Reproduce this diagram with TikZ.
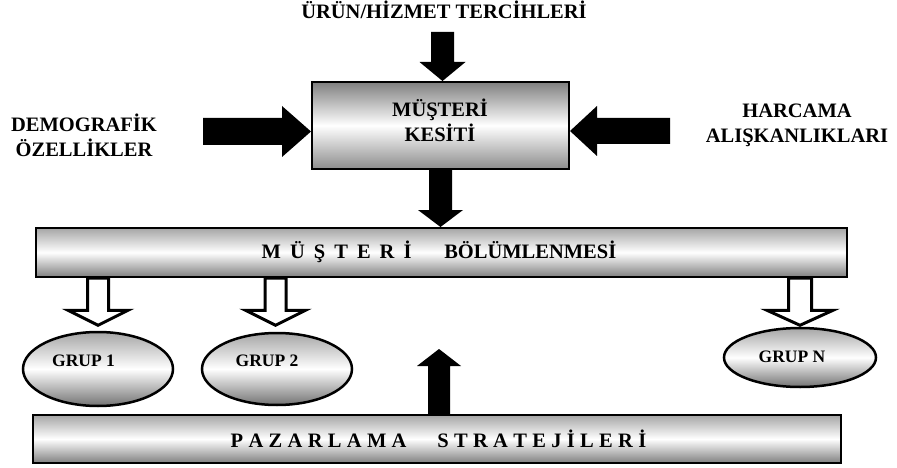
\documentclass[tikz,border=0pt]{standalone}
\usepackage{fontspec}
\setmainfont{Liberation Serif}
\usetikzlibrary{calc,shapes.geometric}
\newcommand\gapA{\hskip0.44em}
\newcommand\gapB{\hskip0.26em}
\newcommand\blockarrow[6]{%
  \coordinate (hb) at ($(#3)!#6!(#2)$);
  \path[#1] ($(#2)!#4!90:(#3)$) -- ($(hb)!#4!90:(#3)$) -- ($(hb)!#5!90:(#3)$) -- (#3)
    -- ($(hb)!#5!-90:(#3)$) -- ($(hb)!#4!-90:(#3)$) -- ($(#2)!#4!-90:(#3)$) -- cycle;}
\tikzset{
  lbl/.style={font=\bfseries\fontsize{20.5}{25}\selectfont, align=center, inner sep=0pt},
  grptxt/.style={font=\bfseries\fontsize{17.5}{20}\selectfont, inner sep=0pt},
  boxshade/.style={draw=black, line width=2pt, inner sep=0pt, top color=black!50, bottom color=black!45, middle color=white},
  barshade/.style={draw=black, line width=2pt, inner sep=0pt, top color=black!35, bottom color=black!50, middle color=white},
  grp/.style={ellipse, draw=black, line width=2.5pt, inner sep=0pt, top color=black!35, bottom color=black!55, middle color=white},
  solidarr/.style={fill=black},
  hollowarr/.style={fill=white, draw=black, line width=3pt, line join=miter}
}
\begin{document}
\begin{tikzpicture}[x=1pt,y=-1pt]
\useasboundingbox (0,0) rectangle (897,468);

% boxes
\node[boxshade, minimum width=257pt, minimum height=87pt] (kesit) at (440.5,125.5) {};
\node[lbl] (kesittxt) at (440,120) {MÜŞTERİ\\KESİTİ};
\node[barshade, minimum width=811pt, minimum height=49pt] (bolum) at (441.5,252.5) {};
\node[lbl, anchor=base] (bolumtxt) at (439,258) {M\gapA Ü\gapA Ş\gapA T\gapA E\gapA R\gapA İ\hskip1.6em BÖLÜMLENMESİ};
\node[barshade, minimum width=808pt, minimum height=48pt] (strat) at (437,439) {};
\node[lbl, anchor=base] (strattxt) at (438.5,447) {P\gapB A\gapB Z\gapB A\gapB R\gapB L\gapB A\gapB M\gapB A\hskip1.5em S\gapB T\gapB R\gapB A\gapB T\gapB E\gapB J\gapB İ\gapB L\gapB E\gapB R\gapB İ};

% outer labels
\node[lbl, anchor=base] (urun) at (444,18.5) {ÜRÜN/HİZMET TERCİHLERİ};
\node[lbl] (demo) at (84,135) {DEMOGRAFİK\\ÖZELLİKLER};
\node[lbl] (harc) at (797,125.5) {HARCAMA\\ALIŞKANLIKLARI};

% solid arrows
\coordinate (topStart) at (442.5,32);
\coordinate (topTip) at (topStart |- kesit.north);
\blockarrow{solidarr}{topStart}{topTip}{11.5pt}{23pt}{19pt}
\coordinate (downTip) at (kesit.south |- bolum.north);
\blockarrow{solidarr}{kesit.south}{downTip}{11.5pt}{22.5pt}{17pt}
\coordinate (upTip) at (439,349);
\coordinate (upStart) at (strat.north -| upTip);
\blockarrow{solidarr}{upStart}{upTip}{11pt}{22pt}{17pt}
\coordinate (demoStart) at (203,131.5);
\coordinate (demoTip) at (demoStart -| kesit.west);
\blockarrow{solidarr}{demoStart}{demoTip}{13.5pt}{25.5pt}{29pt}
\coordinate (harcStart) at (670,131);
\coordinate (harcTip) at (harcStart -| kesit.east);
\blockarrow{solidarr}{harcStart}{harcTip}{13pt}{25pt}{27pt}

% groups
\node[grp, minimum width=150pt, minimum height=74pt] (g1) at (98,369) {};
\node[grptxt] (g1txt) at (83.5,361) {GRUP 1};
\node[grp, minimum width=150pt, minimum height=72pt] (g2) at (277,369) {};
\node[grptxt] (g2txt) at (267,361) {GRUP 2};
\node[grp, minimum width=152pt, minimum height=59pt] (gN) at (800,357.5) {};
\node[grptxt] (gNtxt) at (792,357) {GRUP N};

% hollow arrows
\coordinate (tipy) at (0,325.3);
\coordinate (h1s) at (bolum.south -| g1);
\coordinate (h1t) at (g1 |- tipy);
\blockarrow{hollowarr}{h1s}{h1t}{10.5pt}{30pt}{15pt}
\coordinate (h2s) at ($(bolum.south -| g2)+(-1.5,0)$);
\coordinate (h2t) at (h2s |- tipy);
\blockarrow{hollowarr}{h2s}{h2t}{10.5pt}{30pt}{15pt}
\coordinate (hNs) at (bolum.south -| gN);
\coordinate (hNt) at (gN |- tipy);
\blockarrow{hollowarr}{hNs}{hNt}{11.5pt}{33pt}{15pt}
\end{tikzpicture}
\end{document}
